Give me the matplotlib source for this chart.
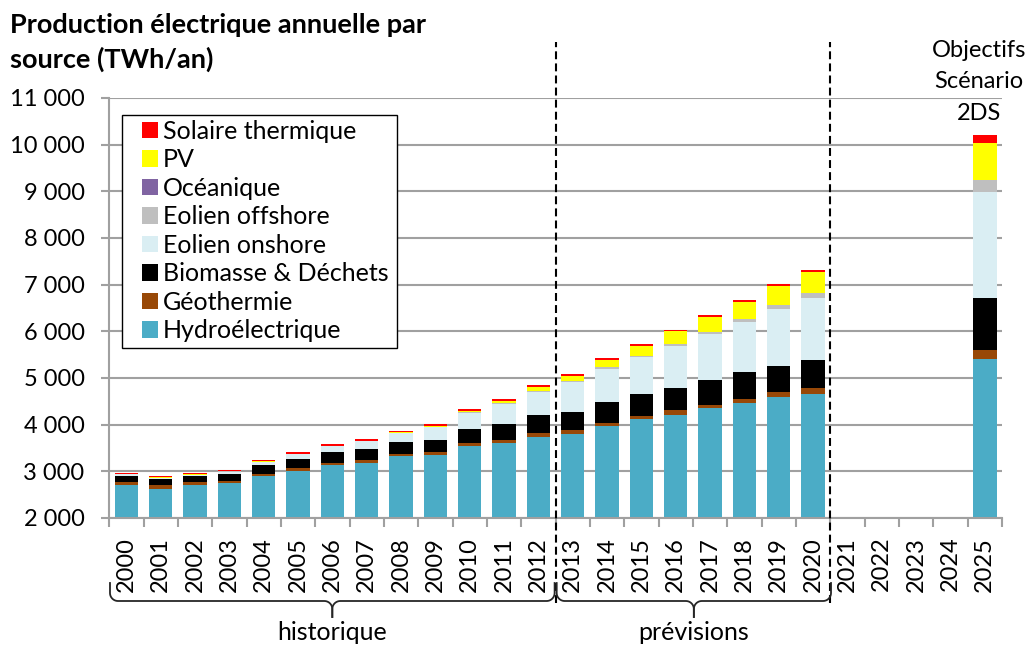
import numpy as np
import matplotlib
matplotlib.use("Agg")
import matplotlib.pyplot as plt
from matplotlib.patches import Patch, Rectangle
from matplotlib.lines import Line2D
from matplotlib.ticker import FuncFormatter, FixedLocator
import matplotlib.transforms as mtransforms

plt.rcParams['font.family'] = ['Lato', 'DejaVu Sans']

# --- donnees (TWh/an) ---
annees = list(range(2000, 2026))
hydro = [2710, 2630, 2710, 2740, 2905, 3015, 3140, 3175, 3320, 3350, 3550, 3615, 3745,
         3810, 3975, 4120, 4215, 4355, 4455, 4600, 4660, 0, 0, 0, 0, 5400]
geo = [60, 75, 60, 45, 45, 55, 45, 65, 45, 60, 60, 65, 70,
       85, 65, 65, 100, 65, 100, 95, 130, 0, 0, 0, 0, 200]
biomasse = [135, 125, 125, 150, 190, 200, 220, 235, 255, 265, 305, 335, 395,
            380, 440, 465, 480, 535, 565, 565, 600, 0, 0, 0, 0, 1105]
eolien_on = [35, 35, 35, 60, 65, 100, 130, 165, 200, 270, 345, 425, 500,
             645, 715, 790, 895, 980, 1075, 1215, 1315, 0, 0, 0, 0, 2290]
eolien_off = [0, 1, 1, 2, 3, 4, 5, 6, 8, 10, 12, 14, 15,
              15, 35, 35, 45, 55, 70, 80, 115, 0, 0, 0, 0, 245]
oceanique = [1, 1, 1, 1, 1, 1, 1, 1, 1, 1, 1, 1, 1,
             1, 1, 1, 1, 1, 1, 1, 2, 0, 0, 0, 0, 5]
pv = [1, 2, 2, 3, 4, 5, 6, 8, 12, 20, 30, 60, 85,
      115, 155, 220, 265, 315, 370, 420, 455, 0, 0, 0, 0, 800]
solaire_th = [30, 30, 30, 30, 30, 30, 30, 30, 30, 30, 30, 30, 30,
              35, 36, 36, 36, 36, 36, 36, 43, 0, 0, 0, 0, 165]

series = [
    ("Hydroélectrique", hydro, "#4BACC6"),
    ("Géothermie", geo, "#984807"),
    ("Biomasse & Déchets", biomasse, "#000000"),
    ("Eolien onshore", eolien_on, "#DAEEF3"),
    ("Eolien offshore", eolien_off, "#BFBFBF"),
    ("Océanique", oceanique, "#8064A2"),
    ("PV", pv, "#FFFF00"),
    ("Solaire thermique", solaire_th, "#FF0000"),
]

W, H = 1029, 645
GRIS = "#A0A0A0"
FS = 17

fig = plt.figure(figsize=(W / 100, H / 100), dpi=100)
ax = fig.add_axes([109.3 / W, 1 - 518 / H, (1002 - 109.3) / W, 420 / H])

x = np.arange(len(annees))
bas = np.zeros(len(annees))
for nom, vals, col in series:
    v = np.array(vals, dtype=float)
    ax.bar(x, v, bottom=bas, width=0.68, color=col, linewidth=0, zorder=2)
    bas += v

ax.set_xlim(-0.5, len(annees) - 0.5)
ax.set_ylim(2000, 11000)
ax.set_yticks(np.arange(2000, 11001, 1000))
ax.yaxis.set_major_formatter(FuncFormatter(lambda v, p: f"{v:,.0f}".replace(",", " ")))
ax.yaxis.grid(True, color=GRIS, lw=1.5)
ax.set_axisbelow(True)
for s in ["top", "right"]:
    ax.spines[s].set_visible(False)
for s in ["left", "bottom"]:
    ax.spines[s].set_color(GRIS)
    ax.spines[s].set_linewidth(1.5)

ax.set_xticks(x)
ax.set_xticklabels([str(a) for a in annees], rotation=90, fontsize=FS)
ax.xaxis.set_minor_locator(FixedLocator(np.arange(-0.5, len(annees), 1.0)))
ax.tick_params(axis="x", which="major", length=0, pad=13.5)
ax.tick_params(axis="x", which="minor", length=6.5, width=1.5, color=GRIS)
ax.tick_params(axis="y", length=5.8, width=1.5, color=GRIS, pad=12, labelsize=FS)

# lignes pointillees historique / previsions / objectifs
trans = mtransforms.blended_transform_factory(ax.transData, ax.transAxes)
i_prev = annees.index(2013) - 0.5
i_obj = annees.index(2021) - 0.5
for xl in [i_prev, i_obj]:
    ax.plot([xl, xl], [-0.202, 1.133], transform=trans, color="black", lw=1.5,
            ls=(0, (3.8, 2.0)), clip_on=False, zorder=3)

# legende (cadre dessine a part)
cadre = Rectangle((122 / W, 1 - 348 / H), (397 - 122) / W, (348 - 115) / H,
                  transform=fig.transFigure, facecolor="white", edgecolor="black",
                  lw=1.0, zorder=4, clip_on=False)
ax.add_patch(cadre)
ordre = list(reversed(series))
handles = [Patch(facecolor=c, edgecolor="none") for _, _, c in ordre]
leg = ax.legend(handles, [n for n, _, _ in ordre], loc="center left",
                bbox_to_anchor=(142 / W, 1 - 231 / H), bbox_transform=fig.transFigure,
                frameon=False, fontsize=18, handlelength=0.64, handleheight=0.64,
                handletextpad=0.2, labelspacing=0.22, borderpad=0, borderaxespad=0)
leg.set_zorder(5)


# accolades sous l'axe
def accolade(x0, x1, texte):
    px0 = ax.transData.transform((x0, 0))[0]
    px1 = ax.transData.transform((x1, 0))[0]
    pm = (px0 + px1) / 2
    yt, yh, yp, r = H - 583, H - 601, H - 617, 8
    a = np.linspace(0, np.pi / 2, 12)
    xs = np.concatenate([[px0], px0 + r - r * np.cos(a), [pm - r], pm - r + r * np.sin(a), [pm]])
    ys = np.concatenate([[yt], yh + r - r * np.sin(a), [yh], yh - r + r * np.cos(a), [yp]])
    xs2 = 2 * pm - xs
    for xx in [xs, xs2]:
        fig.add_artist(Line2D(xx / W, ys / H, transform=fig.transFigure,
                              color="#262626", lw=1.3))
    fig.text(pm / W, 1 - 640 / H, texte, ha="center", va="baseline", fontsize=18)


accolade(-0.48, i_prev - 0.03, "historique")
accolade(i_prev + 0.03, i_obj + 0.02, "prévisions")

for ligne, yb in [("Production électrique annuelle par", 33), ("source (TWh/an)", 68)]:
    fig.text(10 / W, 1 - yb / H, ligne, ha="left", va="baseline", fontsize=19.5,
             fontweight="bold")
for ligne, yb in [("Objectifs", 57), ("Scénario", 88), ("2DS", 120)]:
    fig.text(979 / W, 1 - yb / H, ligne, ha="center", va="baseline", fontsize=FS)

fig.savefig("out.png", dpi=100)
